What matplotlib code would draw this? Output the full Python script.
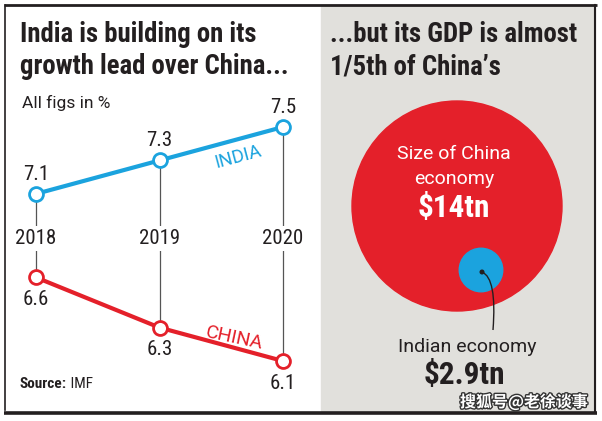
import matplotlib.pyplot as plt
from matplotlib.patches import Rectangle, Circle, PathPatch
from matplotlib.path import Path
import matplotlib.patheffects as pe
import matplotlib.transforms as mtransforms

# data
years = [2018, 2019, 2020]
india_growth = [7.1, 7.3, 7.5]
china_growth = [6.6, 6.3, 6.1]
gdp_labels = ['China', 'India']
gdp_tn = [14, 2.9]

RED = '#e4202a'
BLUE = '#1ba3de'
INK = '#231f20'
PANEL = '#e1e0dc'
COND = ['Roboto Condensed', 'Archivo Narrow', 'Barlow Semi Condensed', 'Roboto', 'DejaVu Sans']
BODY = ['Roboto', 'DejaVu Sans']

plt.rcParams['font.family'] = COND

fig = plt.figure(figsize=(6.02, 4.21), dpi=100)
fig.patch.set_facecolor('white')

# background axes in pixel coordinates
bg = fig.add_axes([0, 0, 1, 1])
bg.set_xlim(0, 602)
bg.set_ylim(421, 0)
bg.axis('off')

bg.add_patch(Rectangle((321, 5), 274, 406, color=PANEL, zorder=0))
bg.plot([4, 597], [5, 5], color=INK, lw=2, solid_capstyle='butt')
bg.plot([5, 5], [5, 410], color=INK, lw=1.2)
bg.plot([595, 595], [5, 412], color=INK, lw=1.5)
bg.plot([4, 597], [412.5, 412.5], color=INK, lw=2.6, solid_capstyle='butt')

# titles
tkw = dict(fontsize=19.3, fontweight=800, color=INK, va='center', ha='left')
bg.text(20, 34, 'India is building on its', **tkw)
bg.text(20, 66, 'growth lead over China...', **tkw)
bg.text(330, 35, '...but its GDP is almost', **tkw)
bg.text(330, 67, '1/5th of China\u2019s', **tkw)

bg.text(22, 103, 'All figs in %', fontsize=12.5, color=INK, va='center', family=BODY)
src = bg.text(20, 384, 'Source:', fontsize=11, fontweight=800, color=INK, va='center')
bg.annotate(' IMF', xycoords=src, xy=(1, 0.5), va='center', fontsize=11, color=INK)

# right panel: circles, radius proportional to GDP
k = 7.5
bg.add_patch(Circle((457, 206), gdp_tn[0] * k, color=RED, zorder=2))
bg.add_patch(Circle((481, 270), gdp_tn[1] * k, color=BLUE, zorder=3))
bg.add_patch(Circle((482, 272), 1.8, color=INK, zorder=4))
curve = Path([(482, 272), (497, 278), (493, 330)],
             [Path.MOVETO, Path.CURVE3, Path.CURVE3])
bg.add_patch(PathPatch(curve, fc='none', ec=INK, lw=1, zorder=4))

bg.text(454, 154, 'Size of China', fontsize=14, color='white', ha='center', va='center',
        zorder=5, family=BODY)
bg.text(454, 179, 'economy', fontsize=14, color='white', ha='center', va='center',
        zorder=5, family=BODY)
bg.text(454, 208, '$%gtn' % gdp_tn[0], fontsize=22.5, fontweight=800, color='white',
        ha='center', va='center', zorder=5)
bg.text(467, 347, 'Indian economy', fontsize=14, color=INK, ha='center', va='center',
        family=BODY)
bg.text(464, 375, '$%gtn' % gdp_tn[1], fontsize=22.5, fontweight=800, color=INK,
        ha='center', va='center')

bg.text(524, 402, '搜狐号@老徐谈事', fontsize=11.5, fontweight='bold', color='white',
        ha='center', va='center', family=['Noto Sans CJK SC', 'DejaVu Sans'],
        path_effects=[pe.withStroke(linewidth=2, foreground='#333333')])

# left panel line chart
ax = fig.add_axes([36 / 602, 1 - 361 / 421, (283 - 36) / 602, (361 - 127) / 421])
ax.set_xlim(2018, 2020)
ax.set_ylim(6.1, 7.5)
ax.axis('off')
ax.patch.set_alpha(0)

ax.vlines(years, china_growth, india_growth, color='#555555', lw=0.9, zorder=1,
          clip_on=False)
trans = mtransforms.blended_transform_factory(ax.transData, ax.transAxes)
for yr in years:
    ax.text(yr, 0.525, str(yr), transform=trans, fontsize=15, color=INK,
            ha='center', va='center', zorder=2,
            bbox=dict(boxstyle='square,pad=0.15', fc='white', ec='none'))

ax.plot(years, india_growth, color=BLUE, lw=3, marker='o', ms=10, mfc='white',
        mec=BLUE, mew=2, clip_on=False, zorder=3)
ax.plot(years, china_growth, color=RED, lw=3, marker='o', ms=10, mfc='white',
        mec=RED, mew=2, clip_on=False, zorder=3)

for yr, v in zip(years, india_growth):
    ax.annotate('%.1f' % v, (yr, v), xytext=(0, 14), textcoords='offset points',
                ha='center', va='center', fontsize=15, color=INK)
for yr, v in zip(years, china_growth):
    ax.annotate('%.1f' % v, (yr, v), xytext=(0, -16), textcoords='offset points',
                ha='center', va='center', fontsize=15, color=INK)

bg.text(238, 157, 'INDIA', fontsize=13.5, color=BLUE, rotation=15, family=BODY,
        ha='center', va='center', rotation_mode='anchor')
bg.text(234, 338, 'CHINA', fontsize=14, color=RED, rotation=-12, family=BODY,
        ha='center', va='center', rotation_mode='anchor')

fig.savefig('out.png', dpi=100)
